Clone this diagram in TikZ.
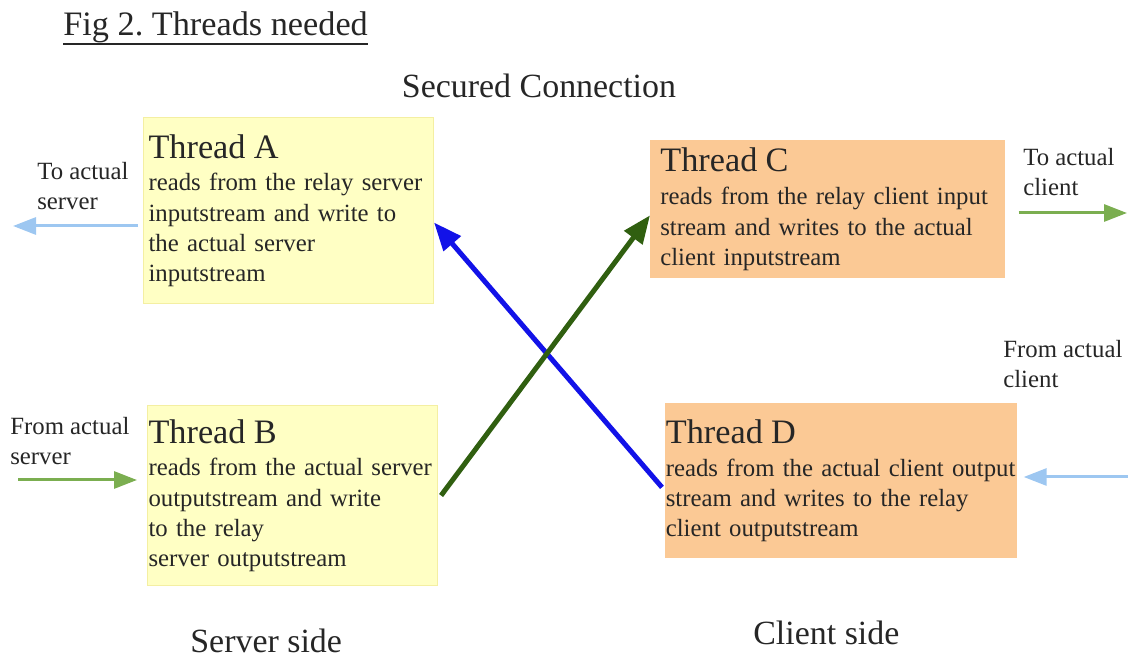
\documentclass[tikz,border=0pt]{standalone}
\usepackage{fontspec}
\setmainfont{Liberation Serif}
\usetikzlibrary{arrows.meta, calc}
\usepackage{xcolor}
\definecolor{threadyellow}{HTML}{FFFFC4}
\definecolor{threadyellowline}{HTML}{F4EFA2}
\definecolor{threadorange}{HTML}{FBC995}
\definecolor{relayblue}{HTML}{1212E8}
\definecolor{relaygreen}{HTML}{305F10}
\definecolor{actualblue}{HTML}{9DC7F1}
\definecolor{actualgreen}{HTML}{7BAE50}
\definecolor{labelgray}{HTML}{262626}
\newcommand{\threadtitle}[1]{{\fontsize{19.5}{20}\selectfont #1}\\[1.5pt]}
\newcommand{\threadfont}{\fontsize{14.1}{17.2}\selectfont}
\frenchspacing
\hyphenpenalty=10000

\begin{document}
\begin{tikzpicture}[
  thread/.style={
    rectangle, anchor=north west, inner ysep=0pt,
    align=left, text=black!85, font=\threadfont
  },
  serverbox/.style={thread, fill=threadyellow, draw=threadyellowline, line width=0.6pt},
  clientbox/.style={thread, fill=threadorange},
  sidetext/.style={
    anchor=north west, inner sep=0pt, align=left,
    text=labelgray, font=\threadfont
  },
  bigtext/.style={inner sep=0pt, text=labelgray, font=\fontsize{19.3}{22}\selectfont},
  cross/.style={-{Triangle[length=0.56cm, width=0.44cm]}, line width=0.1cm},
  sidearr/.style={-{Triangle[length=0.46cm, width=0.34cm]}, line width=0.06cm}
]
  \useasboundingbox (0,0) rectangle (22.56,-13.2);

  % Titles
  \node[bigtext, anchor=base west, font=\fontsize{19.5}{22}\selectfont]
    (figTitle) at (1.26,-0.72) {Fig 2. Threads needed};
  \draw[labelgray, line width=1.2pt] (figTitle.south west) -- (figTitle.south east);
  \node[bigtext, anchor=base] (secured) at (10.78,-1.96) {Secured Connection};

  % Server side threads
  \node[serverbox, text width=5.60cm, inner xsep=0.1cm, minimum height=3.72cm]
    (threadA) at (2.86,-2.34) {\threadtitle{Thread A}reads from the relay server\\
    inputstream and write to\\the actual server\\inputstream};
  \node[serverbox, text width=5.76cm, inner xsep=0.02cm, minimum height=3.60cm]
    (threadB) at (2.94,-8.10) {\threadtitle{Thread B}reads from the actual server\\
    outputstream and write\\to the relay\\server outputstream};

  % Client side threads
  \node[clientbox, text width=6.70cm, inner xsep=0.2cm, minimum height=2.76cm]
    (threadC) at (13.00,-2.80) {\threadtitle{Thread C}reads from the relay client input\\
    stream and writes to the actual\\client inputstream};
  \node[clientbox, text width=7.02cm, inner xsep=0.01cm, minimum height=3.10cm]
    (threadD) at (13.30,-8.06) {\threadtitle{Thread D}reads from the actual client output\\
    stream and writes to the relay\\client outputstream};

  % Side labels
  \node[sidetext] (toServerText) at (0.74,-3.24) {To actual\\server};
  \node[sidetext] (fromServerText) at (0.20,-8.34) {From actual\\server};
  \node[sidetext] (toClientText) at (20.46,-2.96) {To actual\\client};
  \node[sidetext] (fromClientText) at (20.06,-6.80) {From actual\\client};

  \node[bigtext, anchor=base west] (serverSide) at (3.80,-13.06) {Server side};
  \node[bigtext, anchor=base west] (clientSide) at (15.06,-12.90) {Client side};

  % Outside ends
  \coordinate (toServer) at (0.26,-4.52);
  \coordinate (fromServer) at (0.36,-9.60);
  \coordinate (toClient) at (22.54,-4.26);
  \coordinate (fromClient) at (22.56,-9.54);

  \draw[sidearr, actualblue, shorten <=0.1cm] (threadA.west |- toServer) -- (toServer);
  \draw[sidearr, actualgreen, shorten >=0.2cm] (fromServer) -- (threadB.west |- fromServer);
  \draw[sidearr, actualgreen, shorten <=0.26cm] (threadC.east |- toClient) -- (toClient);
  \draw[sidearr, actualblue, shorten >=0.12cm] (fromClient) -- (threadD.east |- fromClient);

  % Relay crossing
  \draw[cross, relayblue] ([shift={(-0.06,-0.13)}]threadD.west) -- ([yshift=-0.24cm]threadA.east);
  \draw[cross, relaygreen] ([xshift=0.06cm]threadB.east) -- ([yshift=-0.12cm]threadC.west);
\end{tikzpicture}
\end{document}
